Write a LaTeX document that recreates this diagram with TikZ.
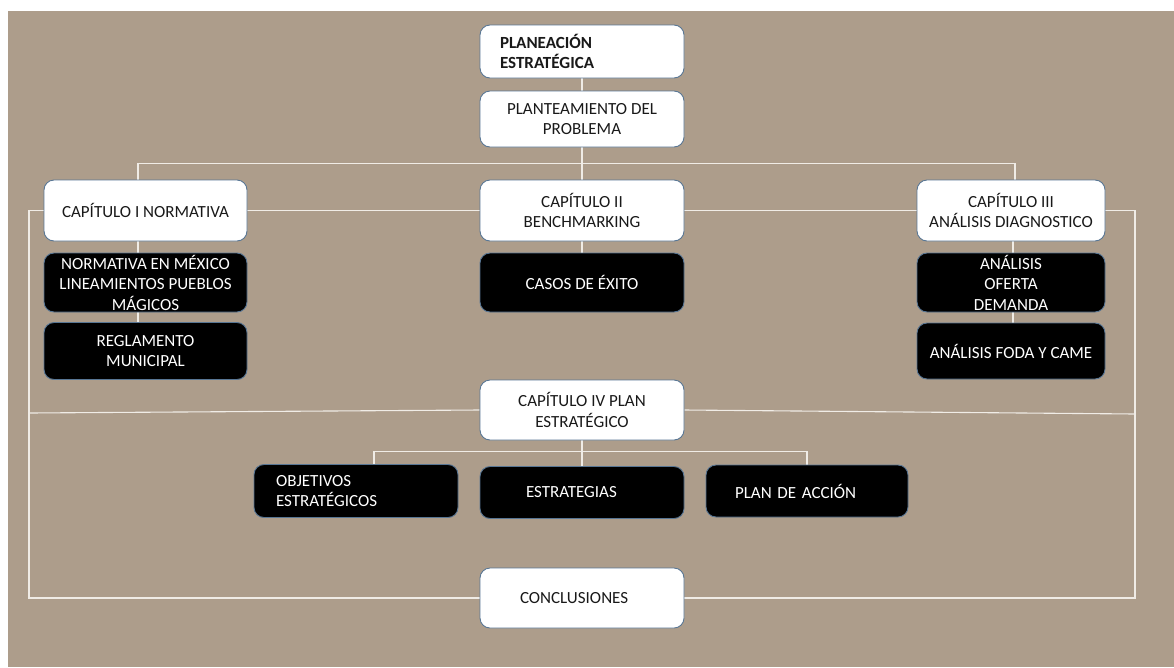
\documentclass[tikz,border=0pt]{standalone}
\usepackage{fontspec}
\setmainfont{Carlito}
\pgfdeclarelayer{bg}
\pgfdeclarelayer{edges}
\pgfsetlayers{bg,edges,main}
\definecolor{tan}{RGB}{173,157,139}
\definecolor{edgeblue}{RGB}{88,118,148}
\definecolor{linecol}{RGB}{240,236,230}
\definecolor{ink}{RGB}{25,25,25}
\tikzset{
  box/.style={draw=edgeblue, line width=0.9pt, rounded corners=10pt,
    minimum width=204pt, inner sep=0pt, align=center,
    font=\fontsize{17}{20.5}\selectfont},
  lightbox/.style={box, fill=white, text=ink},
  darkbox/.style={box, fill=black, text=white},
  conn/.style={draw=linecol, line width=1.1pt}
}
\begin{document}
\begin{tikzpicture}[x=1pt,y=-1pt]
\useasboundingbox (0,0) rectangle (1174,667);
\begin{pgfonlayer}{bg}
  \fill[white] (0,0) rectangle (1174,667);
  \fill[tan] (8,11) rectangle (1174,667);
\end{pgfonlayer}

% title and problem statement
\node[lightbox, minimum height=53pt, text width=164pt, align=left,
      font=\fontsize{17}{20}\selectfont\bfseries] (plan) at (582,51.5)
  {PLANEACIÓN\\ESTRATÉGICA};
\node[lightbox, minimum height=56pt] (plant) at (582,119)
  {PLANTEAMIENTO DEL\\PROBLEMA};

% chapters
\node[lightbox, minimum width=203pt, minimum height=61pt] (cap1) at (145.5,210.5)
  {CAPÍTULO I NORMATIVA};
\node[lightbox, minimum height=61pt] (cap2) at (582,210.5)
  {CAPÍTULO II\\BENCHMARKING};
\node[lightbox, minimum width=188pt, minimum height=61pt] (cap3) at (1011,210.5)
  {CAPÍTULO III\\ANÁLISIS DIAGNOSTICO};

% chapter contents
\node[darkbox, minimum width=203pt, minimum height=59pt] (norm) at (145.5,282.5)
  {NORMATIVA EN MÉXICO\\LINEAMIENTOS PUEBLOS\\MÁGICOS};
\node[darkbox, minimum width=203pt, minimum height=57pt] (regl) at (145.5,351)
  {REGLAMENTO\\MUNICIPAL};
\node[darkbox, minimum height=59pt] (casos) at (582,282.5)
  {CASOS DE ÉXITO};
\node[darkbox, minimum width=188pt, minimum height=59pt] (anal) at (1011,282.5)
  {ANÁLISIS\\OFERTA\\DEMANDA};
\node[darkbox, minimum width=188pt, minimum height=56pt] (foda) at (1011,351)
  {ANÁLISIS FODA Y CAME};

% strategic plan
\node[lightbox, minimum height=60pt] (cap4) at (582,410)
  {CAPÍTULO IV PLAN\\ESTRATÉGICO};
\node[darkbox, minimum height=53pt, text width=160pt, align=left] (obj) at (356,491)
  {OBJETIVOS\\ESTRATÉGICOS};
\node[darkbox, minimum height=52pt, text width=112pt, align=left] (estr) at (582,492.5)
  {ESTRATEGIAS};
\node[darkbox, minimum width=202pt, minimum height=52pt, text width=144pt, align=left] (accion) at (807,491)
  {PLAN DE ACCIÓN};

\node[lightbox, minimum height=60pt, text width=124pt, align=left] (concl) at (582,598)
  {CONCLUSIONES};

% frame corners of the outer loop
\coordinate (lcorner) at (29,413);
\coordinate (rcorner) at (1135,414);

\begin{pgfonlayer}{edges}
  \draw[conn] (plan.south) -- (plant.north);
  \draw[conn] (plant.south) -- (cap2.north);
  \coordinate (hub) at (582,163.5);
  \draw[conn] ([xshift=-7.5pt]cap1.north) |- (hub) -| ([xshift=4pt]cap3.north);
  \draw[conn] (cap1.east) -- (cap3.west);
  \draw[conn] (cap1.west) -| (lcorner) |- (concl.west);
  \draw[conn] (cap3.east) -| (rcorner) |- (concl.east);
  \draw[conn] (lcorner) -- (cap4.west);
  \draw[conn] (cap4.east) -- (rcorner);
  \draw[conn] ([xshift=-7.5pt]cap1.south) -- ([xshift=-7.5pt]regl.north);
  \draw[conn] (cap2.south) -- (casos.north);
  \draw[conn] ([xshift=2pt]cap3.south) -- ([xshift=2pt]foda.north);
  \draw[conn] (cap4.south) -- (estr.north);
  \draw[conn] ([xshift=18pt]obj.north) -- ++(0,-13) -| (accion.north);
\end{pgfonlayer}
\end{tikzpicture}
\end{document}
